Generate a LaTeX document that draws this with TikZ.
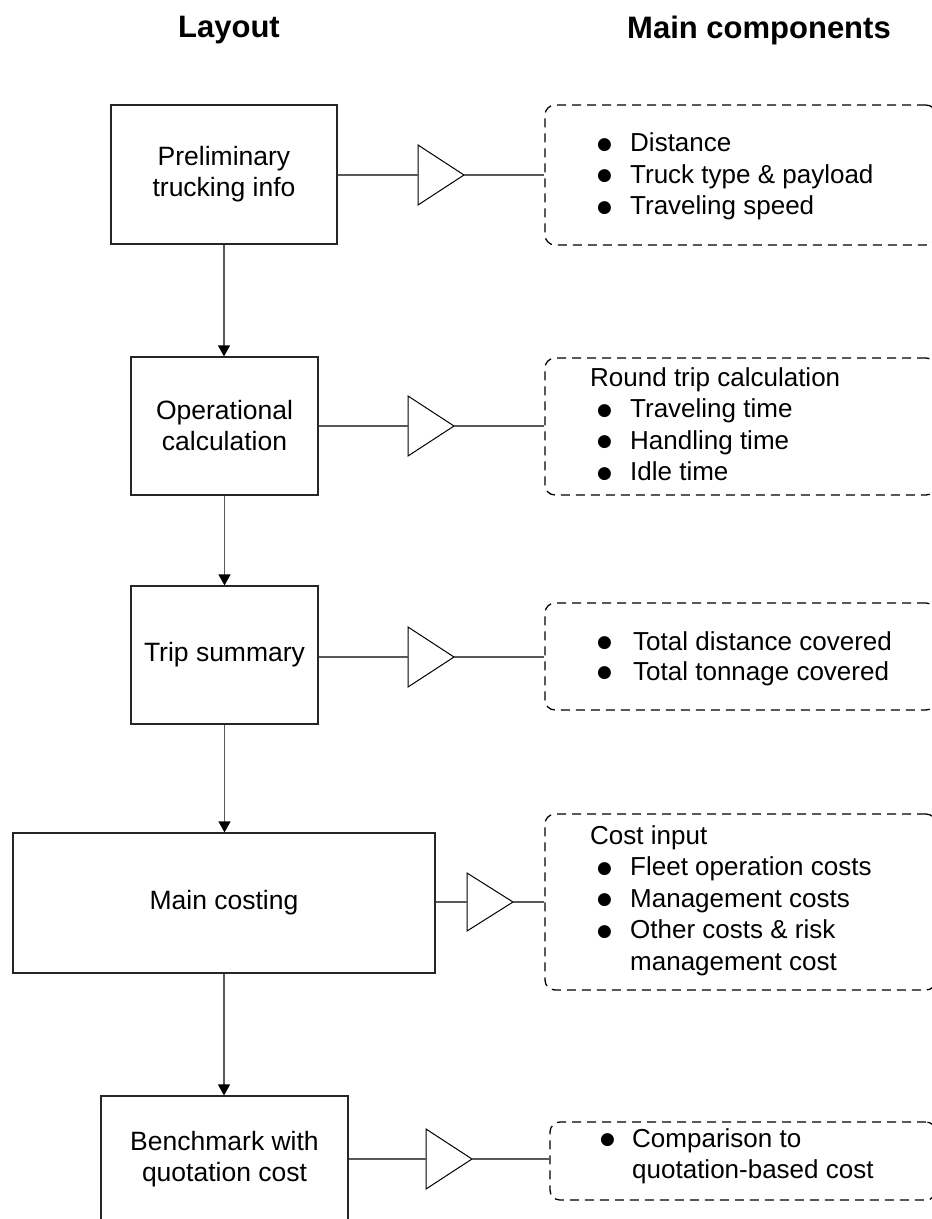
\documentclass[tikz,border=0pt]{standalone}
\usepackage{fontspec}
\setmainfont{Liberation Sans}
\newfontfamily\symfont{DejaVu Sans}
\usetikzlibrary{arrows.meta}
% list bullet and bulleted entry
\newcommand\bul{\raisebox{2.5pt}{\fontsize{17}{17}\symfont ●}}
\newcommand\itm{\makebox[33pt][l]{\bul}}
\begin{document}
\begin{tikzpicture}[x=1pt,y=-1pt,
  stage/.style={draw=black!85, line width=1.2pt, inner sep=0pt, align=center,
    font=\fontsize{26.5}{31}\selectfont},
  group/.style={draw=black, line width=1.3pt, dash pattern=on 9pt off 6pt,
    rounded corners=10pt, inner sep=0pt},
  items/.style={inner sep=0pt, anchor=base west, font=\fontsize{26}{31.5}\selectfont},
  link/.style={draw=black!65, line width=1.2pt},
  flow/.style={link, -{Triangle[width=12pt,length=11pt,black]}},
  amp/.style={draw=black, line width=1pt, line join=miter},
  head/.style={font=\fontsize{31}{36}\selectfont\bfseries}
]
\useasboundingbox (0,0) rectangle (932,1219);

% column headings
\node[head] (hlay) at (229,30) {Layout};
\node[head] (hcomp) at (759,30) {Main components};

% layout stages
\node[stage, minimum width=226, minimum height=139] (b1) at (224,174.5) {Preliminary\\trucking info};
\node[stage, minimum width=187, minimum height=138] (b2) at (224.5,426) {Operational\\calculation};
\node[stage, minimum width=187, minimum height=138] (b3) at (224.5,655) {Trip summary};
\node[stage, minimum width=422, minimum height=140] (b4) at (224,903) {Main costing};
\node[stage, minimum width=247, minimum height=126] (b5) at (224.5,1159) {Benchmark with\\quotation cost};

% flow between stages
\draw[flow] (b1.south) -- (b1.south |- b2.north);
\draw[flow] (b2.south) -- (b2.south |- b3.north);
\draw[flow] (b3.south) -- (b3.south |- b4.north);
\draw[flow] (b4.south) -- (b4.south |- b5.north);

% component groups (their right sides run off the page edge)
\node[group, minimum width=391, minimum height=140] (d1) at (740.5,175) {};
\node[group, minimum width=391, minimum height=137] (d2) at (740.5,426.5) {};
\node[group, minimum width=391, minimum height=107] (d3) at (740.5,656.5) {};
\node[group, minimum width=391, minimum height=176] (d4) at (740.5,902) {};
\node[group, minimum width=386, minimum height=78] (d5) at (743,1161) {};

\node[items] (d1t) at (597,151.5) {\begin{tabular}[t]{@{}l@{}}
  \itm Distance\\ \itm Truck type \& payload\\ \itm Traveling speed\end{tabular}};
\node[items] (d2t) at (597,386) {\begin{tabular}[t]{@{}l@{}}
  \hspace*{-7pt}Round trip calculation\\ \itm Traveling time\\ \itm Handling time\\ \itm Idle time\end{tabular}};
\node[items] (d3t) at (597,650) {\begin{tabular}[t]{@{}l@{}}
  \makebox[36pt][l]{\bul}Total distance covered\\[-1.5pt] \makebox[36pt][l]{\bul}Total tonnage covered\end{tabular}};
\node[items] (d4t) at (597,844) {\begin{tabular}[t]{@{}l@{}}
  \hspace*{-7pt}Cost input\\ \itm Fleet operation costs\\ \itm Management costs\\ \itm Other costs \& risk\\ \hspace*{33pt}management cost\end{tabular}};
\node[items] (d5t) at (600,1147) {\begin{tabular}[t]{@{}l@{}}
  \makebox[32pt][l]{\bul}Comparison to\\ \hspace*{32pt}quotation-based cost\end{tabular}};

% amplifier marks between stages and groups
\foreach \n/\x/\y/\h in {1/418/175/30, 2/408/426/30, 3/408/657/30, 4/467/902/29, 5/426/1159/30} {
  \coordinate (t\n) at (\x,\y);
  \draw[amp] (t\n) -- ++(0,-\h) -- ++(46,\h) coordinate (t\n o) -- ++(-46,\h) -- cycle;
}
\draw[link] (b1.east |- t1) -- (t1);
\draw[link] (b2.east |- t2) -- (t2);
\draw[link] (b3.east |- t3) -- (t3);
\draw[link] (b4.east |- t4) -- (t4);
\draw[link] (b5.east |- t5) -- (t5);
\draw[link] (t1o) -- (t1o -| d1.west);
\draw[link] (t2o) -- (t2o -| d2.west);
\draw[link] (t3o) -- (t3o -| d3.west);
\draw[link] (t4o) -- (t4o -| d4.west);
\draw[link] (t5o) -- (t5o -| d5.west);
\end{tikzpicture}
\end{document}
